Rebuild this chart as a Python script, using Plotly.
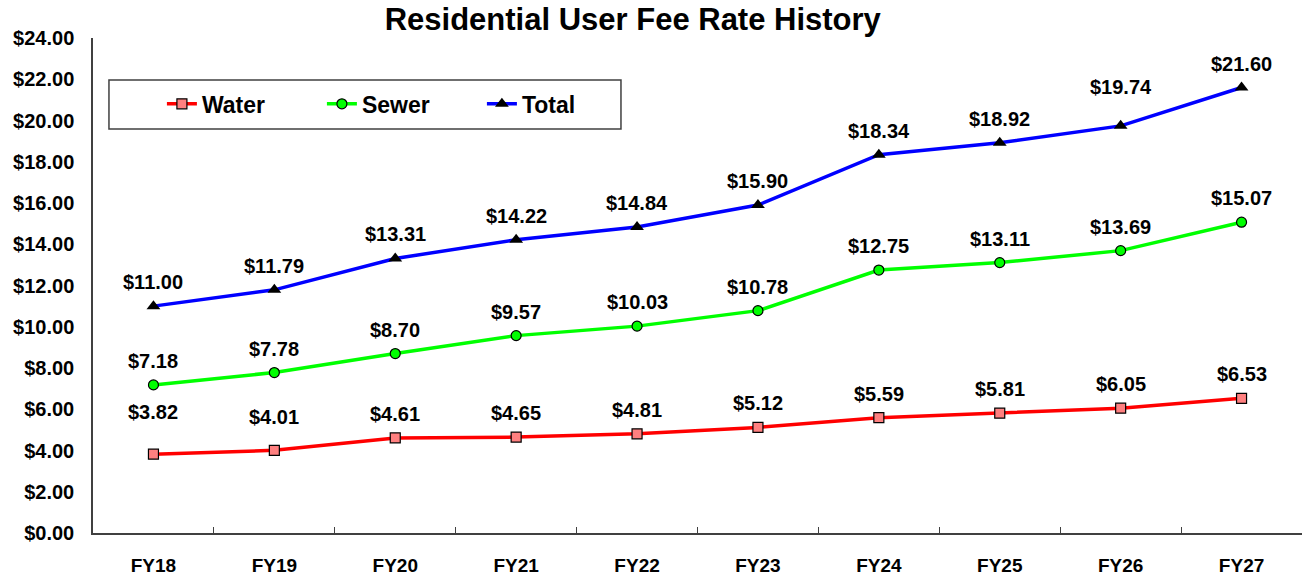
import plotly.graph_objects as go

years = ["FY18", "FY19", "FY20", "FY21", "FY22", "FY23", "FY24", "FY25", "FY26", "FY27"]
water = [3.82, 4.01, 4.61, 4.65, 4.81, 5.12, 5.59, 5.81, 6.05, 6.53]
sewer = [7.18, 7.78, 8.70, 9.57, 10.03, 10.78, 12.75, 13.11, 13.69, 15.07]
total = [11.00, 11.79, 13.31, 14.22, 14.84, 15.90, 18.34, 18.92, 19.74, 21.60]

FONT = "Liberation Sans, Arial, sans-serif"

fig = go.Figure()
series = [
    ("Water", water, "#ff0000", dict(symbol="square", size=10, color="#ff8080", line=dict(color="#000000", width=1.2))),
    ("Sewer", sewer, "#00ff00", dict(symbol="circle", size=10, color="#00ff00", line=dict(color="#000000", width=1.2))),
    ("Total", total, "#0000ff", dict(symbol="triangle-up", size=12, color="#000000", line=dict(color="#000000", width=0))),
]
for name, vals, col, mk in series:
    fig.add_trace(go.Scatter(x=years, y=vals, name=name, mode="lines+markers",
                             line=dict(color=col, width=3.5), marker=mk, cliponaxis=False))

extra = {("Water", 0): 18, ("Water", 1): 9, ("Total", 8): 15}
annotations = []
for name, vals, col, mk in series:
    for i, (x, v) in enumerate(zip(years, vals)):
        annotations.append(dict(x=x, y=v, text=f"<b>${v:.2f}</b>", showarrow=False,
                                yshift=24 + extra.get((name, i), 0),
                                font=dict(family=FONT, size=20, color="#000000")))

fig.update_layout(
    width=1302, height=577,
    margin=dict(l=93, r=0, t=38, b=44, autoexpand=False),
    paper_bgcolor="white", plot_bgcolor="white",
    font=dict(family=FONT, size=20, color="#000000", weight="bold"),
    title=dict(text="<b>Residential User Fee Rate History</b>", x=0.486, xanchor="center",
               y=0.966, yanchor="middle", yref="container",
               font=dict(family=FONT, size=31, color="#000000")),
    annotations=annotations,
    showlegend=True,
    legend=dict(orientation="h", x=0.057, xanchor="left", y=0.867, yanchor="middle",
                bgcolor="rgba(0,0,0,0)", borderwidth=0, entrywidth=115,
                font=dict(family=FONT, size=23, color="#000000", weight="bold"),
                itemclick=False),
    shapes=[dict(type="rect", xref="paper", yref="paper", x0=0.0132, x1=0.4367, y0=0.816, y1=0.915,
                 line=dict(color="#404040", width=1.5), fillcolor="white", layer="below")],
)
fig.update_xaxes(range=[-0.5, 9.5], showline=True, linecolor="#404040", linewidth=1.5,
                 ticks="inside", ticklen=6,
                 tickcolor="#404040", tickson="boundaries", showgrid=False, ticklabelstandoff=14,
                 automargin=False,
                 tickfont=dict(family=FONT, size=19, color="#000000", weight="bold"))
fig.update_yaxes(range=[0, 24], dtick=2, tickprefix="$", tickformat=".2f", showline=True,
                 linecolor="#404040", linewidth=1.5, showgrid=False, zeroline=False, ticks="",
                 ticklabelstandoff=13, automargin=False,
                 tickfont=dict(family=FONT, size=20, color="#000000", weight="bold"))

fig.write_html("out.html")
